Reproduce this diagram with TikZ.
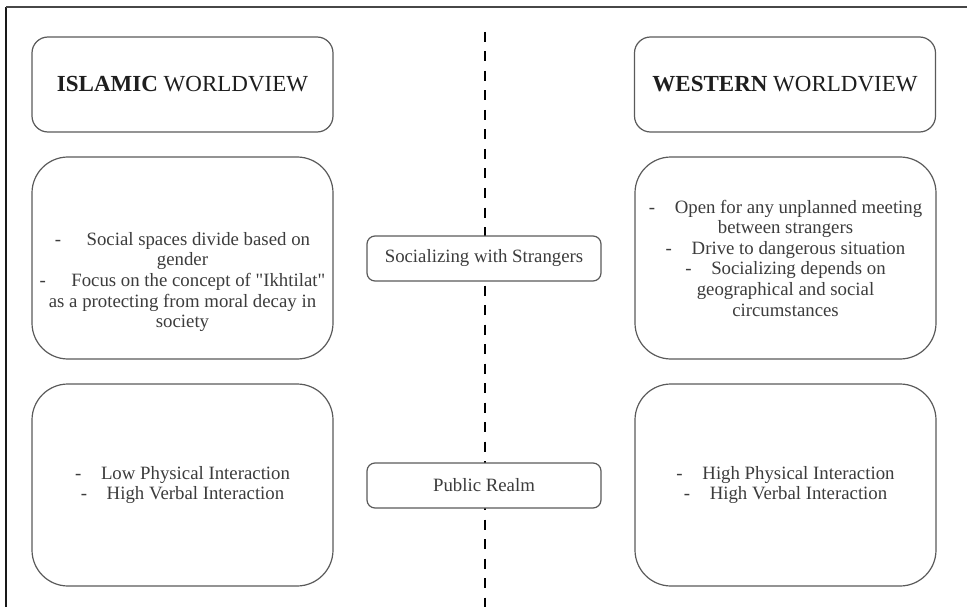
\documentclass[tikz,border=0pt]{standalone}
\usepackage{fontspec}
\setmainfont{Liberation Serif}
\definecolor{boxline}{HTML}{5A5A5A}
\definecolor{bodytext}{HTML}{3C3C3C}
\definecolor{headtext}{HTML}{1E1E1E}
% straight double quote, printed as a glyph so the TeX mapping leaves it alone
\newcommand{\sq}{\XeTeXglyph\XeTeXcharglyph"22\relax}
\begin{document}
\begin{tikzpicture}[x=1pt,y=-1pt,
  frameleft/.style={line width=2pt,draw=black!90},
  frametop/.style={line width=2.2pt,draw=black!72},
  divider/.style={line width=2.8pt,draw=black,dash pattern=on 10pt off 9.5pt},
  basebox/.style={draw=boxline,line width=1.2pt,fill=white,inner sep=0pt,
    text=bodytext,align=center,font=\fontsize{18.8}{20.6}\selectfont},
  titlebox/.style={basebox,rounded corners=16pt,minimum width=301pt,minimum height=95pt,
    text=headtext,font=\fontsize{23}{26}\selectfont},
  bigbox/.style={basebox,rounded corners=36pt,minimum width=301pt,minimum height=202pt},
  tagbox/.style={basebox,rounded corners=8pt,minimum width=234pt,minimum height=45pt},
  bodytxt/.style={text=bodytext,align=center,inner sep=0pt,font=\fontsize{18.8}{20.6}\selectfont}
]
\useasboundingbox (0,0) rectangle (967,607);

% page frame
\coordinate (fbl) at (6,607);
\coordinate (ftl) at (6,7);
\coordinate (ftr) at (967,7);
\draw[frameleft] (fbl) -- (ftl);
\draw[frametop] (ftl) -- (ftr);

% central dashed divider
\coordinate (dtop) at (485,32);
\coordinate (dbot) at (485,607);
\draw[divider] (dtop) -- (dbot);

% headings
\node[titlebox] (islam) at (182.5,84.5) {\textbf{ISLAMIC} WORLDVIEW};
\node[titlebox] (west) at (785,84.5) {\textbf{WESTERN} WORLDVIEW};

% socializing row
\node[bigbox] (islamsoc) at (182.5,258) {};
\node[bodytxt] (islamsoctxt) at (182.5,282) {%
  -\hspace{1.35em}Social spaces divide based on\\
  gender\\
  -\hspace{1.35em}Focus on the concept of \sq Ikhtilat\sq\\
  as a protecting from moral decay in\\
  society};
\node[bigbox] (westsoc) at (785.5,258) {%
  -\hspace{1.05em}Open for any unplanned meeting\\
  between strangers\\
  -\hspace{1.05em}Drive to dangerous situation\\
  -\hspace{1.05em}Socializing depends on\\
  geographical and social\\
  circumstances};
\node[tagbox] (social) at (484,258.5) {Socializing with Strangers};

% public realm row
\node[bigbox] (islampub) at (182.5,485) {%
  -\hspace{1.05em}Low Physical Interaction\\
  -\hspace{1.05em}High Verbal Interaction};
\node[bigbox] (westpub) at (785.5,485) {%
  -\hspace{1.05em}High Physical Interaction\\
  -\hspace{1.05em}High Verbal Interaction};
\node[tagbox] (public) at (484,485.5) {Public Realm};
\end{tikzpicture}
\end{document}
